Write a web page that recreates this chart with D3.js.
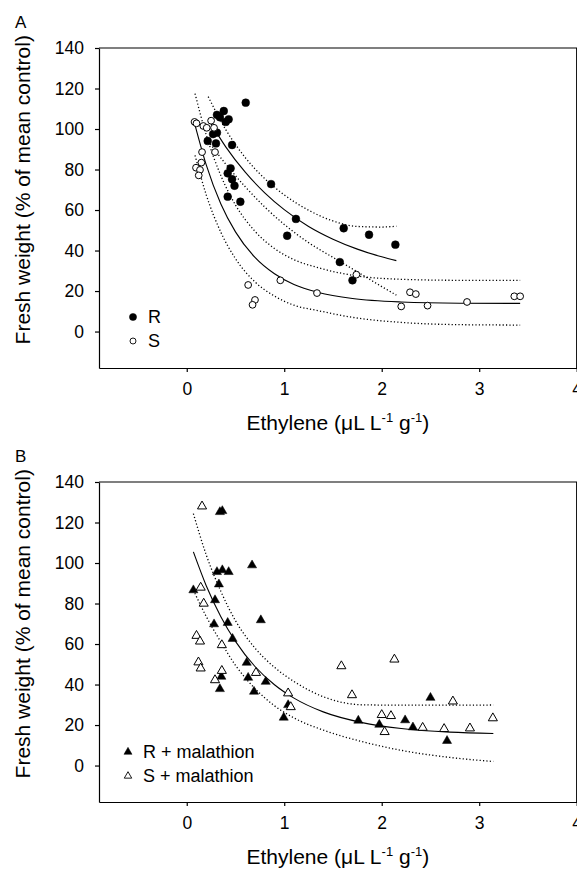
<!DOCTYPE html>
<html>
<head>
<meta charset="utf-8">
<script src="https://cdn.jsdelivr.net/npm/d3@7"></script>
<style>
  body { margin: 0; background: #fff; }
  text { font-family: "Liberation Sans", Arial, Helvetica, sans-serif; }
</style>
</head>
<body>
<div id="chart"></div>
<script>
const width = 577,
  height = 872,
  margin = { left: 99, right: 0.3 };

const xTicks = [0, 1, 2, 3, 4];
const yTicks = [0, 20, 40, 60, 80, 100, 120, 140];

// panel A : ethylene vs fresh weight, [ethylene, weight]
const rPoints = [[0.605,113.0],[0.38,108.9],[0.31,107.0],[0.34,105.8],[0.43,104.8],[0.40,103.5],[0.27,97.5],[0.31,98.2],[0.215,94.1],[0.30,92.9],[0.465,92.1],[0.45,80.6],[0.42,78.1],[0.465,75.2],[0.49,72.0],[0.42,66.6],[0.55,64.1],[0.865,72.8],[1.12,55.6],[1.03,47.3],[1.61,51.0],[1.87,47.8],[2.14,42.9],[1.57,34.3],[1.70,25.3]];
const sPoints = [[0.08,103.5],[0.10,102.8],[0.17,101.5],[0.205,100.6],[0.25,104.1],[0.28,100.6],[0.157,88.6],[0.29,88.6],[0.15,83.4],[0.095,80.9],[0.136,79.8],[0.123,77.1],[0.63,23.0],[0.70,15.6],[0.675,13.2],[0.96,25.3],[1.336,19.0],[1.74,28.1],[2.29,19.4],[2.35,18.5],[2.20,12.4],[2.47,12.8],[2.875,14.6],[3.36,17.4],[3.42,17.4]];

// fitted curves and bands
const rFit = [[0.22,105.0],[0.4,91.2],[0.6,78.7],[0.8,68.5],[1.0,60.2],[1.25,51.9],[1.5,45.6],[1.75,40.7],[2.0,36.9],[2.15,35.0]];
const rUpper = [[0.22,116],[0.4,99.7],[0.6,85.9],[0.8,75.5],[1.0,67.5],[1.25,59.9],[1.5,54.6],[1.75,51.9],[2.0,51.6],[2.15,52]];
const rLower = [[0.22,94],[0.4,82.7],[0.6,71.5],[0.8,61.5],[1.0,52.9],[1.25,43.9],[1.5,36.6],[1.75,29.5],[2.0,22.2],[2.15,18]];
const sFit = [[0.085,102],[0.2,82.3],[0.35,63.0],[0.5,49.2],[0.7,36.6],[0.9,28.5],[1.1,23.2],[1.35,19.3],[1.7,16.3],[2.2,14.6],[2.8,14.0],[3.42,13.9]];
const sUpper = [[0.085,117.5],[0.2,97],[0.35,77],[0.5,62.5],[0.7,49.5],[0.9,41],[1.1,35.5],[1.35,31.5],[1.7,27.8],[2.2,25.8],[2.8,25.3],[3.42,25.3]];
const sLower = [[0.085,87],[0.2,67.5],[0.35,49],[0.5,36],[0.7,24.5],[0.9,17.5],[1.1,13],[1.35,10.3],[1.7,7],[2.2,4.5],[2.8,3.4],[3.42,3.2]];

// panel B : with malathion
const rmPoints = [[0.34,125.2],[0.365,125.7],[0.31,95.6],[0.365,96.5],[0.43,95.6],[0.33,89.5],[0.67,98.9],[0.068,86.6],[0.29,81.7],[0.28,69.8],[0.42,70.5],[0.47,62.6],[0.615,50.8],[0.63,43.4],[0.355,43.9],[0.34,37.8],[0.69,36.5],[0.76,71.8],[0.81,41.4],[1.04,29.9],[0.995,23.7],[1.76,22.2],[1.975,20.2],[2.24,22.4],[2.32,18.9],[2.50,33.5],[2.67,12.2]];
const smPoints = [[0.157,128.0],[0.143,87.9],[0.174,80.0],[0.10,64.1],[0.136,61.3],[0.36,59.5],[0.12,51.0],[0.143,48.0],[0.36,46.8],[0.29,42.2],[0.71,45.8],[1.04,35.7],[1.067,28.9],[1.586,49.1],[1.695,34.8],[2.13,52.4],[2.0,25.0],[2.095,24.5],[2.03,16.6],[2.42,18.7],[2.64,18.1],[2.73,31.7],[2.905,18.4],[3.14,23.4]];
const malFit = [[0.068,105.5],[0.2,88.8],[0.35,73.5],[0.5,61.3],[0.7,48.9],[0.9,39.9],[1.1,33.3],[1.4,26.5],[1.8,21.2],[2.2,18.3],[2.7,16.5],[3.145,15.8]];
const malUpper = [[0.068,124.4],[0.2,104],[0.35,86],[0.5,71.5],[0.7,58],[0.9,48.5],[1.1,41.5],[1.4,34],[1.8,30],[2.2,29.8],[2.7,29.8],[3.145,29.9]];
const malLower = [[0.068,86.6],[0.2,73.6],[0.35,61],[0.5,49.5],[0.7,38],[0.9,29.5],[1.1,23.5],[1.4,17.5],[1.8,11.8],[2.2,7.5],[2.7,4],[3.145,2]];

const svg = d3.select("#chart")
  .append("svg")
  .attr("width", width)
  .attr("height", height);

const x = d3.scaleLinear().domain([-0.9, 4]).range([margin.left, width - margin.right]);

function drawPanel(p) {
  const y = d3.scaleLinear().domain([-18, 140]).range([p.bottom, p.top]);
  const g = svg.append("g");

  const line = d3.line()
    .x(d => x(d[0]))
    .y(d => y(d[1]))
    .curve(d3.curveMonotoneX);

  // frame top + right
  g.append("path")
    .attr("d", `M${x.range()[0]},${p.top}H${x.range()[1]}V${p.bottom}`)
    .attr("fill", "none")
    .attr("stroke", "#000")
    .attr("stroke-width", 1.2);

  const xAxis = g.append("g")
    .attr("transform", `translate(0,${p.bottom})`)
    .call(d3.axisBottom(x).tickValues(xTicks).tickFormat(d3.format("d")).tickSize(4).tickSizeOuter(0).tickPadding(11));
  const yAxis = g.append("g")
    .attr("transform", `translate(${x.range()[0]},0)`)
    .call(d3.axisLeft(y).tickValues(yTicks).tickFormat(d3.format("d")).tickSize(4).tickSizeOuter(0).tickPadding(11));
  [xAxis, yAxis].forEach(a => {
    a.attr("font-size", 17.5).attr("font-family", null);
    a.selectAll("path, line").attr("stroke", "#000").attr("stroke-width", 1.2);
    a.selectAll("text").attr("fill", "#000");
  });

  // curves
  p.curves.forEach(c => {
    g.append("path")
      .datum(c.data)
      .attr("d", line)
      .attr("fill", "none")
      .attr("stroke", "#000")
      .attr("stroke-width", c.dotted ? 1.3 : 1.1)
      .attr("stroke-dasharray", c.dotted ? "1.2 2.2" : null);
  });

  // points
  p.series.forEach(s => {
    const sym = d3.symbol().type(s.symbol).size(s.size);
    g.append("g")
      .selectAll("path")
      .data(s.data)
      .join("path")
      .attr("transform", d => `translate(${x(d[0])},${y(d[1])})`)
      .attr("d", sym)
      .attr("fill", s.filled ? "#000" : "#fff")
      .attr("stroke", "#000")
      .attr("stroke-width", s.filled ? 0.5 : 1);

    // legend
    const lsym = d3.symbol().type(s.symbol).size(s.legendSize);
    g.append("path")
      .attr("transform", `translate(${s.legendX},${s.legendY})`)
      .attr("d", lsym)
      .attr("fill", s.filled ? "#000" : "#fff")
      .attr("stroke", "#000")
      .attr("stroke-width", s.filled ? 0.5 : 0.9);
    g.append("text")
      .attr("x", s.legendX + 15)
      .attr("y", s.legendY + 6)
      .attr("font-size", 18)
      .text(s.label);
  });

  // panel letter
  g.append("text")
    .attr("x", 15)
    .attr("y", p.top - 20)
    .attr("font-size", 17)
    .text(p.letter);

  // y label
  g.append("text")
    .attr("transform", `translate(30,${(y(0) + y(140)) / 2}) rotate(-90)`)
    .attr("text-anchor", "middle")
    .attr("font-size", 21)
    .text("Fresh weight (% of mean control)");

  // x label
  const xl = g.append("text")
    .attr("x", (x.range()[0] + x.range()[1]) / 2)
    .attr("y", p.bottom + 62)
    .attr("text-anchor", "middle")
    .attr("font-size", 21);
  xl.append("tspan").text("Ethylene (\u03BCL L");
  xl.append("tspan").attr("dy", -8).attr("font-size", 13).text("-1");
  xl.append("tspan").attr("dy", 8).text(" g");
  xl.append("tspan").attr("dy", -8).attr("font-size", 13).text("-1");
  xl.append("tspan").attr("dy", 8).text(")");
}

drawPanel({
  letter: "A",
  top: 48,
  bottom: 368,
  curves: [
    { data: rUpper, dotted: true }, { data: rFit }, { data: rLower, dotted: true },
    { data: sUpper, dotted: true }, { data: sFit }, { data: sLower, dotted: true },
  ],
  series: [
    { data: rPoints, symbol: d3.symbolCircle, size: 48, filled: true, label: "R", legendX: 133, legendY: 317, legendSize: 40 },
    { data: sPoints, symbol: d3.symbolCircle, size: 36, filled: false, label: "S", legendX: 133, legendY: 341, legendSize: 28 },
  ],
});

drawPanel({
  letter: "B",
  top: 482,
  bottom: 802,
  curves: [
    { data: malUpper, dotted: true }, { data: malFit }, { data: malLower, dotted: true },
  ],
  series: [
    { data: rmPoints, symbol: d3.symbolTriangle, size: 36, filled: true, label: "R + malathion", legendX: 128, legendY: 752, legendSize: 28 },
    { data: smPoints, symbol: d3.symbolTriangle, size: 36, filled: false, label: "S + malathion", legendX: 128, legendY: 776, legendSize: 24 },
  ],
});
</script>
</body>
</html>
